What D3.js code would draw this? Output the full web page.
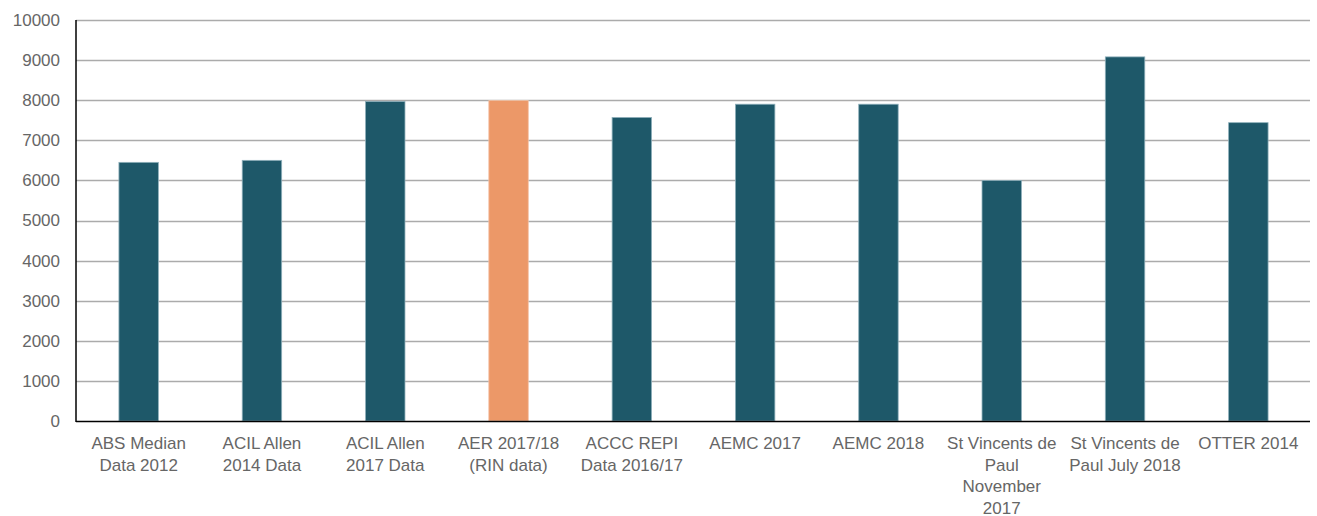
<!DOCTYPE html>
<html>
<head>
<meta charset="utf-8">
<script src="https://cdn.jsdelivr.net/npm/d3@7"></script>
<style>
  body { margin: 0; background: #fff; }
  svg { display: block; }
</style>
</head>
<body>
<svg id="chart"></svg>
<script>
// categories, split into the lines they wrap to in the original
let categories = [
    ["ABS Median", "Data 2012"],
    ["ACIL Allen", "2014 Data"],
    ["ACIL Allen", "2017 Data"],
    ["AER 2017/18", "(RIN data)"],
    ["ACCC REPI", "Data 2016/17"],
    ["AEMC 2017"],
    ["AEMC 2018"],
    ["St Vincents de", "Paul", "November", "2017"],
    ["St Vincents de", "Paul July 2018"],
    ["OTTER 2014"]
];
let values = [6450, 6500, 7970, 7990, 7570, 7900, 7900, 6000, 9080, 7440];
let highlight = [false, false, false, true, false, false, false, false, false, false];
let y_ticks = [0, 1000, 2000, 3000, 4000, 5000, 6000, 7000, 8000, 9000, 10000];

let width_page = 1317;
let height_page = 516;
let font_family = "Liberation Sans, Arial, sans-serif";
let font_size = 17;

let margin = {top: 20, right: 7, bottom: 95, left: 76};

let svg = d3.select("#chart")
    .attr("width", width_page)
    .attr("height", height_page);

let x = d3.scaleBand()
    .domain(d3.range(categories.length))
    .range([margin.left + 1, width_page - margin.right])
    .paddingInner(0.68)
    .paddingOuter(0.34);

let y = d3.scaleLinear()
    .domain([0, 10000])
    .range([height_page - margin.bottom, margin.top]);

// gridlines
svg.append("g")
    .selectAll("line")
    .data(y_ticks.filter(d => d > 0))
    .join("line")
    .attr("x1", margin.left)
    .attr("x2", width_page - margin.right)
    .attr("y1", d => Math.round(y(d)) + 0.5)
    .attr("y2", d => Math.round(y(d)) + 0.5)
    .attr("stroke", "#ababab")
    .attr("stroke-width", 1.5);

// bars
svg.append("g")
    .selectAll("rect")
    .data(values)
    .join("rect")
    .attr("x", (d, i) => x(i))
    .attr("y", d => y(d))
    .attr("width", x.bandwidth())
    .attr("height", d => y(0) - y(d))
    .attr("fill", (d, i) => highlight[i] ? "#ec9868" : "#1e5869")
    .attr("stroke", (d, i) => highlight[i] ? "#f3c2a5" : "#8fb0bb")
    .attr("stroke-width", 0.8);

// y axis ticks
let y_axis = svg.append("g")
    .attr("transform", `translate(${margin.left},0)`)
    .call(d3.axisLeft(y).tickValues(y_ticks).tickFormat(d3.format("d")).tickSize(0).tickPadding(16));
y_axis.select(".domain").remove();
y_axis.selectAll("text")
    .attr("font-family", font_family)
    .attr("font-size", font_size + "px")
    .attr("fill", "#666");

// axis lines
svg.append("line")
    .attr("x1", margin.left).attr("x2", margin.left)
    .attr("y1", margin.top).attr("y2", y(0) + 1)
    .attr("stroke", "#000").attr("stroke-width", 1.5);
svg.append("line")
    .attr("x1", margin.left).attr("x2", width_page - margin.right)
    .attr("y1", y(0) + 0.5).attr("y2", y(0) + 0.5)
    .attr("stroke", "#000").attr("stroke-width", 1.5);

// category labels
let labels = svg.append("g")
    .selectAll("text")
    .data(categories)
    .join("text")
    .attr("x", (d, i) => x(i) + x.bandwidth() / 2)
    .attr("y", y(0) + 28)
    .attr("text-anchor", "middle")
    .attr("font-family", font_family)
    .attr("font-size", font_size + "px")
    .attr("fill", "#666");

labels.selectAll("tspan")
    .data(d => d)
    .join("tspan")
    .attr("x", function () { return this.parentNode.getAttribute("x"); })
    .attr("dy", (d, i) => i === 0 ? 0 : 21.5)
    .text(d => d);
</script>
</body>
</html>
